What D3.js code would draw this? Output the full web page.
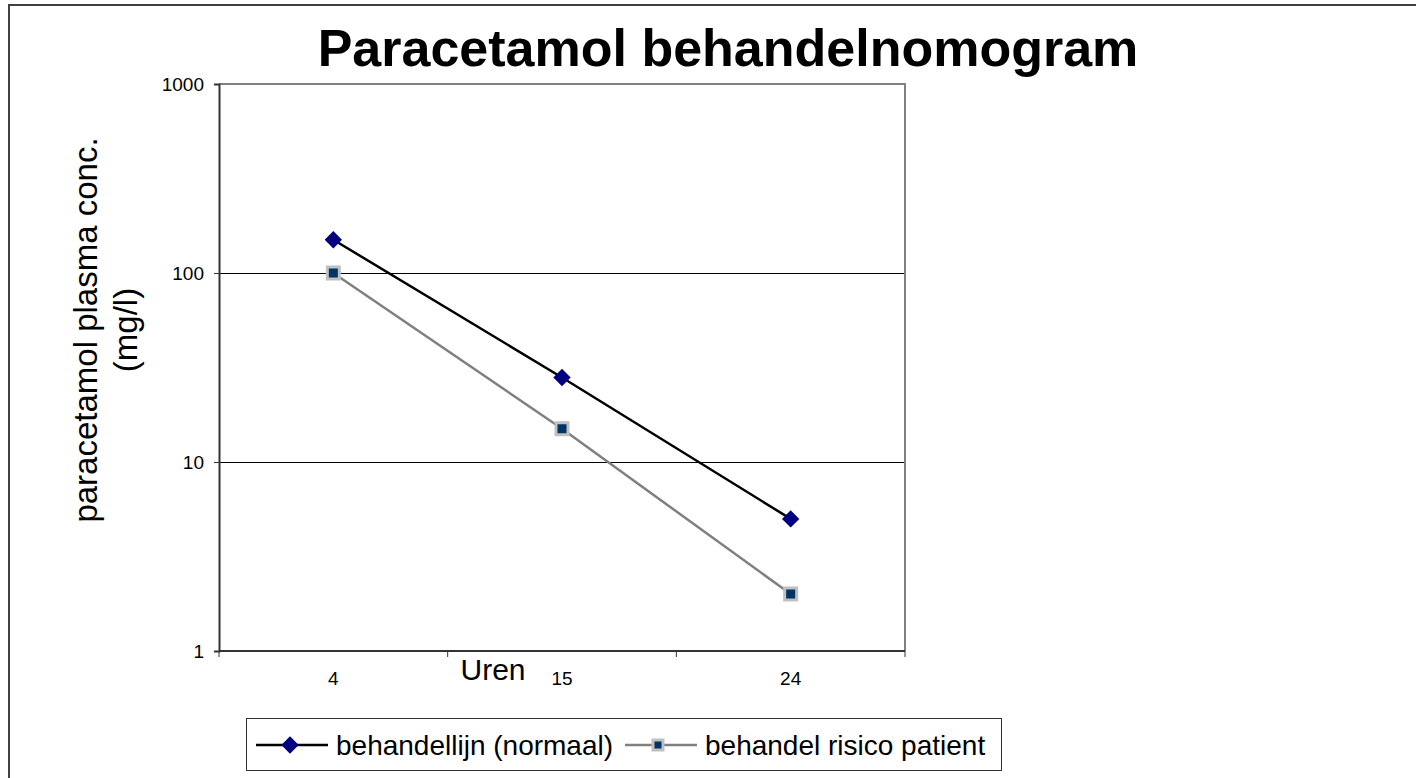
<!DOCTYPE html>
<html>
<head>
<meta charset="utf-8">
<script src="https://cdn.jsdelivr.net/npm/d3@7"></script>
<style>
  body { margin: 0; background: #fff; }
  svg { display: block; font-family: Arial, "Liberation Sans", sans-serif; }
</style>
</head>
<body>
<svg id="chart"></svg>
<script>
const categories = ["4", "15", "24"];
const normaal = [150, 28, 5];
const risico = [100, 15, 2];
const yTicks = [1, 10, 100, 1000];
const seriesNames = ["behandellijn (normaal)", "behandel risico patient"];

const width = 1416, height = 778;
const svg = d3.select("#chart").attr("width", width).attr("height", height);

// outer frame (runs off the right and bottom edge)
svg.append("rect")
  .attr("x", 9).attr("y", 5)
  .attr("width", 1420).attr("height", 800)
  .attr("fill", "#fff").attr("stroke", "#404040").attr("stroke-width", 2);

const plotLeft = 219, plotRight = 905, plotTop = 84, plotBottom = 651;

const x = d3.scaleBand().domain(categories).range([plotLeft, plotRight]).padding(0);
const y = d3.scaleLog().domain([1, 1000]).range([plotBottom, plotTop]);

// title
svg.append("text")
  .attr("x", 728).attr("y", 66)
  .attr("text-anchor", "middle")
  .attr("font-size", 52).attr("font-weight", "bold")
  .text("Paracetamol behandelnomogram");

// gridlines
svg.append("g").selectAll("line")
  .data(yTicks.filter(d => d > 1 && d < 1000))
  .join("line")
  .attr("x1", plotLeft).attr("x2", plotRight)
  .attr("y1", d => Math.round(y(d)) + 0.5).attr("y2", d => Math.round(y(d)) + 0.5)
  .attr("stroke", "#000").attr("stroke-width", 1);

// top and right plot border
svg.append("path")
  .attr("d", `M${plotLeft},${plotTop}H${plotRight}V${plotBottom}`)
  .attr("fill", "none").attr("stroke", "#808080").attr("stroke-width", 2);

// y axis
const yAxis = svg.append("g")
  .attr("transform", `translate(${plotLeft},0)`)
  .call(d3.axisLeft(y).tickValues(yTicks).tickFormat(d3.format("d")).tickSize(5).tickPadding(10));
yAxis.select(".domain").attr("stroke", "#333").attr("stroke-width", 2);
yAxis.selectAll(".tick line").attr("stroke", "#333");
yAxis.selectAll("text").attr("font-size", 19).attr("fill", "#000").attr("font-family", "Arial, 'Liberation Sans', sans-serif");

// x axis: ticks on category boundaries
const xg = svg.append("g");
xg.append("line")
  .attr("x1", plotLeft).attr("x2", plotRight).attr("y1", plotBottom).attr("y2", plotBottom)
  .attr("stroke", "#333").attr("stroke-width", 2);
xg.selectAll("line.tk")
  .data(categories.map(c => x(c)).concat([plotRight]))
  .join("line")
  .attr("class", "tk")
  .attr("x1", d => d).attr("x2", d => d)
  .attr("y1", plotBottom).attr("y2", plotBottom + 6)
  .attr("stroke", "#333");
xg.selectAll("text")
  .data(categories)
  .join("text")
  .attr("x", d => x(d) + x.bandwidth() / 2)
  .attr("y", 685)
  .attr("text-anchor", "middle")
  .attr("font-size", 19)
  .text(d => d);

// axis titles
svg.append("text")
  .attr("x", 493).attr("y", 680)
  .attr("text-anchor", "middle")
  .attr("font-size", 30)
  .text("Uren");

const yl = svg.append("text")
  .attr("transform", "translate(97,330) rotate(-90)")
  .attr("text-anchor", "middle")
  .attr("font-size", 33);
yl.append("tspan").attr("x", 0).attr("dy", 0).text("paracetamol plasma conc.");
yl.append("tspan").attr("x", 0).attr("dy", 40).text("(mg/l)");

const cx = d => x(d) + x.bandwidth() / 2;
const line = d3.line().x(d => cx(d.cat)).y(d => y(d.v));

const s1 = categories.map((c, i) => ({ cat: c, v: normaal[i] }));
const s2 = categories.map((c, i) => ({ cat: c, v: risico[i] }));

const diamond = d3.symbol(d3.symbolSquare, 150);
const square = d3.symbol(d3.symbolSquare, 144);

svg.append("path").datum(s2).attr("d", line)
  .attr("fill", "none").attr("stroke", "#808080").attr("stroke-width", 2.5);
svg.append("path").datum(s1).attr("d", line)
  .attr("fill", "none").attr("stroke", "#000").attr("stroke-width", 2.5);

svg.append("g").selectAll("path")
  .data(s1).join("path")
  .attr("d", diamond)
  .attr("transform", d => `translate(${cx(d.cat)},${y(d.v)}) rotate(45)`)
  .attr("fill", "#000080");

svg.append("g").selectAll("path")
  .data(s2).join("path")
  .attr("d", square)
  .attr("transform", d => `translate(${cx(d.cat)},${y(d.v)})`)
  .attr("fill", "#003366").attr("stroke", "#c0c0c0").attr("stroke-width", 3);

// legend
const lg = svg.append("g");
lg.append("rect")
  .attr("x", 246.5).attr("y", 718.5).attr("width", 755).attr("height", 52)
  .attr("fill", "#fff").attr("stroke", "#333").attr("stroke-width", 1);

const legendItems = [
  { name: seriesNames[0], x0: 256, color: "#000", marker: "diamond" },
  { name: seriesNames[1], x0: 625, color: "#808080", marker: "square" }
];
const ly = 745;
legendItems.forEach(it => {
  lg.append("line")
    .attr("x1", it.x0).attr("x2", it.x0 + 72)
    .attr("y1", ly).attr("y2", ly)
    .attr("stroke", it.color).attr("stroke-width", 2.5);
  if (it.marker === "diamond") {
    lg.append("path").attr("d", diamond)
      .attr("transform", `translate(${it.x0 + 34},${ly}) rotate(45)`)
      .attr("fill", "#000080");
  } else {
    lg.append("path").attr("d", d3.symbol(d3.symbolSquare, 100))
      .attr("transform", `translate(${it.x0 + 33},${ly})`)
      .attr("fill", "#003366").attr("stroke", "#c0c0c0").attr("stroke-width", 3);
  }
  lg.append("text")
    .attr("x", it.x0 + 80).attr("y", ly + 10)
    .attr("font-size", 28)
    .text(it.name);
});
</script>
</body>
</html>
